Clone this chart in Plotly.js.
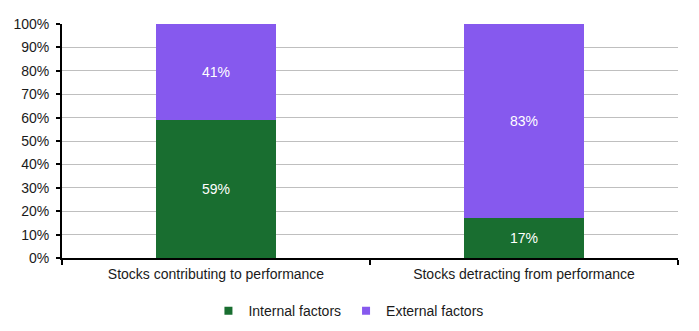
<!DOCTYPE html>
<html>
<head>
<meta charset="utf-8">
<script src="https://cdn.plot.ly/plotly-3.0.1.min.js"></script>
<style>html,body{margin:0;padding:0;background:#fff;}#chart{width:699px;height:331px;}</style>
</head>
<body>
<div id="chart"></div>
<script>
var categories = ["Stocks contributing to performance", "Stocks detracting from performance"];
var internalFactors = [59, 17];
var externalFactors = [41, 83];
var seriesNames = ["Internal factors", "External factors"];
var yTickVals = [0,10,20,30,40,50,60,70,80,90,100];
var yTickText = ["0%","10%","20%","30%","40%","50%","60%","70%","80%","90%","100%"];

var green = "#196e30";
var purple = "#8659ee";
var font = "Liberation Sans, Arial, Helvetica, sans-serif";

var traces = [
  {type:"bar", x:categories, y:internalFactors, name:seriesNames[0], marker:{color:green},
   texttemplate:"%{y}%", textposition:"inside", insidetextanchor:"middle",
   textfont:{color:"#ffffff", size:14, family:font}, showlegend:false, hoverinfo:"skip"},
  {type:"bar", x:categories, y:externalFactors, name:seriesNames[1], marker:{color:purple},
   texttemplate:"%{y}%", textposition:"inside", insidetextanchor:"middle",
   textfont:{color:"#ffffff", size:14, family:font}, showlegend:false, hoverinfo:"skip"},
  {type:"scatter", mode:"markers", x:[null], y:[null], name:seriesNames[0],
   marker:{symbol:"square", size:8, color:green}, showlegend:true},
  {type:"scatter", mode:"markers", x:[null], y:[null], name:seriesNames[1],
   marker:{symbol:"square", size:8, color:purple}, showlegend:true}
];

var layout = {
  width:699, height:331,
  margin:{l:62, r:21, t:24, b:72.5},
  paper_bgcolor:"#ffffff", plot_bgcolor:"#ffffff",
  font:{family:font, size:14, color:"#1a1a1a"},
  barmode:"stack",
  bargap:0.61,
  xaxis:{type:"category", showline:true, linecolor:"#000000", linewidth:2,
         ticks:"outside", tickson:"boundaries", ticklen:5, tickcolor:"#000000", tickwidth:2,
         ticklabelstandoff:2,
         showgrid:false, zeroline:false, tickfont:{size:14, family:font, color:"#1a1a1a"},
         automargin:false, fixedrange:true},
  yaxis:{range:[0,100], tickvals:yTickVals, ticktext:yTickText, showline:true,
         linecolor:"#000000", linewidth:2, ticks:"outside", ticklen:4, tickcolor:"#000000", tickwidth:2,
         ticklabelstandoff:4,
         showgrid:true, gridcolor:"#bfbfbf", gridwidth:1, zeroline:false,
         tickfont:{size:14, family:font, color:"#1a1a1a"}, automargin:false, fixedrange:true},
  showlegend:true,
  legend:{orientation:"h", xref:"paper", x:0.465, xanchor:"center",
          yref:"container", y:0.06, yanchor:"middle",
          font:{size:14, family:font, color:"#1a1a1a"}, traceorder:"normal",
          itemwidth:30, bgcolor:"rgba(0,0,0,0)"}
};

Plotly.newPlot("chart", traces, layout, {displayModeBar:false, staticPlot:true});
</script>
</body>
</html>
